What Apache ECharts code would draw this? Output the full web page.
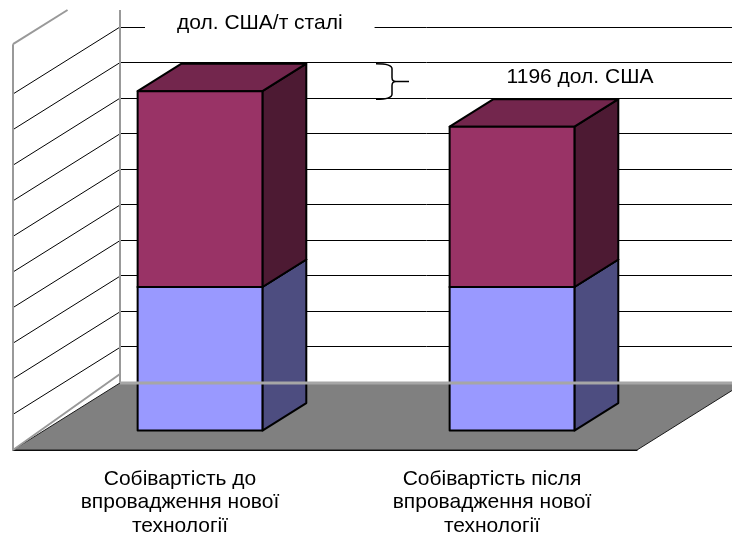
<!DOCTYPE html>
<html>
<head>
<meta charset="utf-8">
<script src="https://cdn.jsdelivr.net/npm/echarts@6/dist/echarts.min.js"></script>
<style>
  html, body { margin: 0; padding: 0; background: #fff; }
  #chart { width: 732px; height: 535px; }
</style>
</head>
<body>
<div id="chart"></div>
<script>
// дані
const categories = [
  'Собівартість до\nвпровадження нової\nтехнології',
  'Собівартість після\nвпровадження нової\nтехнології'
];
const baseCost = [4840, 4840];
const extraCost = [6600, 5404];
const axisMax = 12000;
const axisStep = 1200;
const unitTitle = 'дол. США/т сталі';
const diffUnit = 'дол. США';

const FONT = '"Liberation Sans", Arial, sans-serif';
const DEPTH = [107, -67];     // зсув підлоги вглиб
const BAR_FRONT = 0.29;       // передня грань стовпця (частка глибини)
const BAR_DEPTH = 0.41;       // глибина стовпця
const BAR_WIDTH = 0.4;        // частка ширини категорії
const CLIP_TOP = 10;

const totals = baseCost.map((v, i) => v + extraCost[i]);

function boxRenderer(colors) {
  return function (params, api) {
    const i = api.value(0);
    const p0 = api.coord([i, api.value(1)]);
    const p1 = api.coord([i, api.value(2)]);
    const w = api.size([1, 0])[0] * BAR_WIDTH;
    const ox = DEPTH[0] * BAR_FRONT, oy = DEPTH[1] * BAR_FRONT;
    const dx = DEPTH[0] * BAR_DEPTH, dy = DEPTH[1] * BAR_DEPTH;
    const L = p0[0] - w / 2 + ox, R = L + w;
    const yb = p0[1] + oy, yt = p1[1] + oy;
    const border = { stroke: '#000', lineWidth: 2, lineJoin: 'round' };
    return {
      type: 'group',
      children: [
        { type: 'polygon', shape: { points: [[R, yb], [R + dx, yb + dy], [R + dx, yt + dy], [R, yt]] },
          style: Object.assign({ fill: colors.side }, border) },
        { type: 'polygon', shape: { points: [[L, yt], [R, yt], [R + dx, yt + dy], [L + dx, yt + dy]] },
          style: Object.assign({ fill: colors.top }, border) },
        { type: 'rect', shape: { x: L, y: yt, width: w, height: yb - yt },
          style: Object.assign({ fill: colors.front }, border) }
      ]
    };
  };
}

// стіни та підлога
function renderWalls(params, api) {
  const cs = params.coordSys;
  const x0 = cs.x, xR = cs.x + cs.width, yF = cs.y + cs.height;
  const [Dx, Dy] = DEPTH;
  const children = [];
  children.push({ type: 'polygon',
    shape: { points: [[x0, yF], [xR, yF], [xR + Dx, yF + Dy], [x0 + Dx, yF + Dy]] },
    style: { fill: '#808080', stroke: '#1a1a1a', lineWidth: 1 } });
  for (let v = axisStep; v <= axisMax; v += axisStep) {
    const y = api.coord([0, v])[1];
    children.push({ type: 'line', shape: { x1: x0, y1: y, x2: x0 + Dx, y2: y + Dy },
      style: { stroke: '#000', lineWidth: 1 } });
  }
  const gray = { stroke: '#999', lineWidth: 2 };
  children.push({ type: 'line', shape: { x1: x0, y1: yF, x2: x0 + Dx, y2: yF + Dy - 9 }, style: gray });
  const wallTop = yF - cs.height * 1.14;
  children.push({ type: 'line', shape: { x1: x0, y1: yF, x2: x0, y2: wallTop }, style: gray });
  const t = (wallTop - CLIP_TOP) / -Dy;
  children.push({ type: 'line', shape: { x1: x0, y1: wallTop, x2: x0 + Dx * t, y2: CLIP_TOP }, style: gray });
  children.push({ type: 'line', shape: { x1: x0 + Dx, y1: CLIP_TOP, x2: x0 + Dx, y2: yF + Dy }, style: gray });
  return { type: 'group', children: children };
}

function renderFloorEdge(params, api) {
  const cs = params.coordSys;
  const y = cs.y + cs.height + DEPTH[1];
  return { type: 'line', shape: { x1: cs.x + DEPTH[0], y1: y, x2: cs.x + cs.width + DEPTH[0], y2: y },
    style: { stroke: '#a6a6a6', lineWidth: 3 } };
}

// фігурна дужка з різницею
function renderBrace(params, api) {
  const off = DEPTH[1] * (BAR_FRONT + BAR_DEPTH);
  const ya = api.coord([0, api.value(1)])[1] + off;
  const yb = api.coord([1, api.value(2)])[1] + off;
  const cx = api.coord([1, 0])[0];
  const x = cx - 105, xm = x + 16, tip = x + 33, ym = (ya + yb) / 2;
  const d = 'M' + x + ' ' + ya + ' Q' + xm + ' ' + ya + ' ' + xm + ' ' + (ya + 5) +
    ' L' + xm + ' ' + (ym - 4) + ' Q' + xm + ' ' + ym + ' ' + (xm + 4) + ' ' + ym +
    ' L' + tip + ' ' + ym + ' M' + (xm + 4) + ' ' + ym + ' Q' + xm + ' ' + ym + ' ' + xm + ' ' + (ym + 4) +
    ' L' + xm + ' ' + (yb - 5) + ' Q' + xm + ' ' + yb + ' ' + x + ' ' + yb;
  return {
    type: 'group',
    children: [
      { type: 'path', shape: { pathData: d }, style: { fill: 'none', stroke: '#000', lineWidth: 1.5 } },
      { type: 'text', style: { text: (api.value(1) - api.value(2)) + ' ' + diffUnit,
          x: cx + 99, y: ym - 4, align: 'center', verticalAlign: 'middle',
          font: '21px ' + FONT, fill: '#000' } }
    ]
  };
}

const chart = echarts.init(document.getElementById('chart'));
const option = {
  animation: false,
  title: {
    text: unitTitle, left: 145, top: 6, padding: [7, 32, 7, 32], backgroundColor: '#fff',
    textStyle: { fontSize: 21, fontWeight: 'normal', color: '#000', fontFamily: FONT }
  },
  grid: [
    { left: 13, right: 95, top: 94, bottom: 85, outerBoundsMode: 'none', containLabel: false },
    { left: 120, right: -12, top: 27, bottom: 153, outerBoundsMode: 'none', containLabel: false }
  ],
  xAxis: [
    { type: 'category', data: categories, gridIndex: 0,
      axisLine: { lineStyle: { color: '#000', width: 1 } },
      axisTick: { length: 6, lineStyle: { color: '#555' } },
      axisLabel: { interval: 0, fontSize: 21, lineHeight: 23.5, margin: 17, padding: [0, 0, 0, 22],
        color: '#000', fontFamily: FONT } },
    { type: 'category', data: categories, gridIndex: 1, show: false }
  ],
  yAxis: [
    { type: 'value', gridIndex: 0, min: 0, max: axisMax, interval: axisStep, show: false },
    { type: 'value', gridIndex: 1, min: 0, max: axisMax, interval: axisStep,
      axisLine: { show: false }, axisTick: { show: false }, axisLabel: { show: false },
      splitLine: { show: true, lineStyle: { color: '#000', width: 1 } } }
  ],
  series: [
    { type: 'custom', z: 1, renderItem: renderWalls, data: [0], silent: true },
    { type: 'custom', z: 2, renderItem: boxRenderer({ front: '#9999ff', side: '#4d4d80', top: '#7373bf' }),
      encode: { x: 0, y: [1, 2] },
      data: baseCost.map((v, i) => [i, 0, v]) },
    { type: 'custom', z: 2, renderItem: boxRenderer({ front: '#993366', side: '#4d1a33', top: '#73264d' }),
      encode: { x: 0, y: [1, 2] },
      data: extraCost.map((v, i) => [i, baseCost[i], totals[i]]) },
    { type: 'custom', z: 3, renderItem: renderFloorEdge, data: [0], silent: true },
    { type: 'custom', z: 4, renderItem: renderBrace, encode: { x: 0, y: [1, 2] },
      data: [[1, totals[0], totals[1]]], silent: true }
  ]
};
chart.setOption(option);
</script>
</body>
</html>
